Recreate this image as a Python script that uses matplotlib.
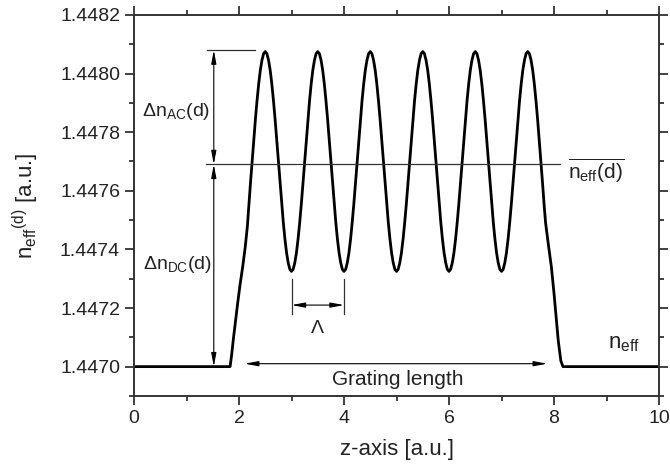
import numpy as np
import matplotlib
matplotlib.use("Agg")
import matplotlib.pyplot as plt
from matplotlib.ticker import MultipleLocator, FormatStrFormatter

plt.rcParams['font.family'] = ['Liberation Sans', 'DejaVu Sans']
plt.rcParams['mathtext.fontset'] = 'custom'
plt.rcParams['mathtext.rm'] = 'Liberation Sans'
plt.rcParams['mathtext.it'] = 'Liberation Sans:italic'
plt.rcParams['mathtext.bf'] = 'Liberation Sans:bold'

# refractive index profile
z_rise = [0.0, 1.83, 1.86, 1.89, 1.93, 1.97, 2.02, 2.07, 2.12, 2.16, 2.1875, 2.21875]
n_rise = [1.44700, 1.44700, 1.44704, 1.44709, 1.44715, 1.44721, 1.44728, 1.44734,
          1.44741, 1.44748, 1.44755, 1.447627]

z_grating = np.arange(2.25, 7.751, 1 / 32)
n_grating = [
    1.447700, 1.447773, 1.447844, 1.447908, 1.447965, 1.448012, 1.448046, 1.448068,
    1.448075, 1.448068, 1.448046, 1.448012, 1.447965, 1.447908, 1.447844, 1.447773,
    1.447700, 1.447627, 1.447556, 1.447492, 1.447435, 1.447388, 1.447354, 1.447332,
    1.447325, 1.447332, 1.447354, 1.447388, 1.447435, 1.447492, 1.447556, 1.447627,
    1.447700, 1.447773, 1.447844, 1.447908, 1.447965, 1.448012, 1.448046, 1.448068,
    1.448075, 1.448068, 1.448046, 1.448012, 1.447965, 1.447908, 1.447844, 1.447773,
    1.447700, 1.447627, 1.447556, 1.447492, 1.447435, 1.447388, 1.447354, 1.447332,
    1.447325, 1.447332, 1.447354, 1.447388, 1.447435, 1.447492, 1.447556, 1.447627,
    1.447700, 1.447773, 1.447844, 1.447908, 1.447965, 1.448012, 1.448046, 1.448068,
    1.448075, 1.448068, 1.448046, 1.448012, 1.447965, 1.447908, 1.447844, 1.447773,
    1.447700, 1.447627, 1.447556, 1.447492, 1.447435, 1.447388, 1.447354, 1.447332,
    1.447325, 1.447332, 1.447354, 1.447388, 1.447435, 1.447492, 1.447556, 1.447627,
    1.447700, 1.447773, 1.447844, 1.447908, 1.447965, 1.448012, 1.448046, 1.448068,
    1.448075, 1.448068, 1.448046, 1.448012, 1.447965, 1.447908, 1.447844, 1.447773,
    1.447700, 1.447627, 1.447556, 1.447492, 1.447435, 1.447388, 1.447354, 1.447332,
    1.447325, 1.447332, 1.447354, 1.447388, 1.447435, 1.447492, 1.447556, 1.447627,
    1.447700, 1.447773, 1.447844, 1.447908, 1.447965, 1.448012, 1.448046, 1.448068,
    1.448075, 1.448068, 1.448046, 1.448012, 1.447965, 1.447908, 1.447844, 1.447773,
    1.447700, 1.447627, 1.447556, 1.447492, 1.447435, 1.447388, 1.447354, 1.447332,
    1.447325, 1.447332, 1.447354, 1.447388, 1.447435, 1.447492, 1.447556, 1.447627,
    1.447700, 1.447773, 1.447844, 1.447908, 1.447965, 1.448012, 1.448046, 1.448068,
    1.448075, 1.448068, 1.448046, 1.448012, 1.447965, 1.447908, 1.447844, 1.447773,
    1.447700,
]

z_fall = [7.78125, 7.8125, 7.84, 7.89, 7.95, 8.00, 8.08, 8.13, 8.17, 10.0]
n_fall = [1.447627, 1.44755, 1.44749, 1.44742, 1.44734, 1.44725, 1.44709, 1.44702,
          1.44700, 1.44700]

n_base = 1.4470
n_mean = 1.44769
n_peak = 1.44808
period_start, period_end = 3.0, 4.0
grating_start, grating_end = 2.11, 7.87

z = np.concatenate([z_rise, z_grating, z_fall])
n = np.concatenate([n_rise, n_grating, n_fall])

fig = plt.figure(figsize=(6.7, 4.68), dpi=100)
ax = fig.add_axes([0.2, 0.154, 0.7836, 0.814])

ax.plot(z, n, color='black', lw=2.0, solid_joinstyle='round')

ann = dict(color='#333333', lw=0.9)
arrow = dict(arrowstyle='<|-|>,head_length=0.8,head_width=0.15', color='black',
             lw=0.8, shrinkA=0, shrinkB=0)

# peak and mean lines
ax.plot([1.39, 2.30], [n_peak, n_peak], **ann)
ax.plot([1.37, 8.11], [n_mean, n_mean], **ann)

# delta n arrows
ax.annotate('', xy=(1.52, n_peak), xytext=(1.52, n_mean), arrowprops=arrow)
ax.annotate('', xy=(1.52, n_mean), xytext=(1.52, n_base), arrowprops=arrow)
ax.text(0.15, 1.44787, 'Δn$_{\\rm AC}$(d)', fontsize=14, va='center', ha='left',
        color='#222222')
ax.text(0.18, 1.44735, 'Δn$_{\\rm DC}$(d)', fontsize=14, va='center', ha='left',
        color='#222222')

# period
ax.plot([period_start, period_start], [1.44730, 1.44718], **ann)
ax.plot([period_end, period_end], [1.44730, 1.44718], **ann)
ax.annotate('', xy=(period_start, 1.44721), xytext=(period_end, 1.44721), arrowprops=arrow)
ax.text(3.5, 1.44713, 'Λ', fontsize=14, ha='center', va='center', color='#222222')

# grating length
ax.annotate('', xy=(grating_start, 1.44701), xytext=(grating_end, 1.44701), arrowprops=arrow)
ax.text(5.02, 1.446955, 'Grating length', fontsize=15, ha='center', va='center',
        color='#222222')

ax.text(8.26, 1.44767, r'$\overline{\rm n_{eff}(d)}$', fontsize=15, ha='left',
        va='center', color='#222222')
ax.text(9.02, 1.44708, 'n$_{\\rm eff}$', fontsize=16, ha='left', va='center',
        color='#222222')

ax.set_xlim(0, 10)
ax.set_ylim(1.4469, 1.4482)
ax.xaxis.set_major_locator(MultipleLocator(2))
ax.xaxis.set_minor_locator(MultipleLocator(1))
ax.yaxis.set_major_locator(MultipleLocator(0.0002))
ax.yaxis.set_minor_locator(MultipleLocator(0.0001))
ax.yaxis.set_major_formatter(FormatStrFormatter('%.4f'))

for side in ax.spines.values():
    side.set_linewidth(1.4)
    side.set_color('#333333')
ax.tick_params(which='both', direction='out', top=True, right=True, width=1.3,
               color='#333333', labelsize=14, labelcolor='#222222')
ax.tick_params(which='major', length=6.5)
ax.tick_params(which='minor', length=3.5)

ax.set_xlabel('z-axis [a.u.]', fontsize=16, labelpad=9, color='#222222')
ax.set_ylabel('n$_{\\rm eff}$$^{\\rm (d)}$ [a.u.]', fontsize=16, labelpad=14,
              color='#222222')

fig.savefig('out.png', dpi=100)
